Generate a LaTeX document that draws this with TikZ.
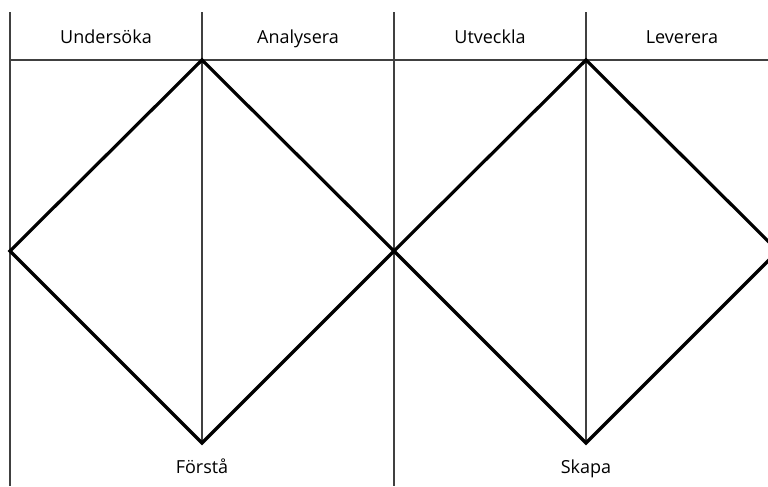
\documentclass[tikz,border=0pt]{standalone}
\usepackage{fontspec}
\setmainfont{Open Sans}
\begin{document}
\begin{tikzpicture}[x=0.75pt,y=-0.75pt,
  grid/.style={draw=black!75,line width=0.8pt},
  diam/.style={draw=black,line width=2.4pt,line join=miter},
  lbl/.style={font=\fontsize{13.5}{15}\selectfont,inner sep=0pt,anchor=base}]
\useasboundingbox (0,0) rectangle (768,486);
\begin{scope}
\clip (0,0) rectangle (768,486);
% column dividers
\coordinate (t0) at (10,12);   \coordinate (b0) at (10,486);
\coordinate (t1) at (202,12);  \coordinate (b1) at (202,443);
\coordinate (t2) at (394,12);  \coordinate (b2) at (394,486);
\coordinate (t3) at (586,12);  \coordinate (b3) at (586,443);
\coordinate (hl) at (10,60);   \coordinate (hr) at (768,60);
\draw[grid] (t0) -- (b0);
\draw[grid] (t1) -- (b1);
\draw[grid] (t2) -- (b2);
\draw[grid] (t3) -- (b3);
\draw[grid] (hl) -- (hr);
% diamond vertices
\coordinate (L) at (10,251);
\coordinate (T1) at (202,60);
\coordinate (M) at (394,251);
\coordinate (B1) at (202,443);
\coordinate (T2) at (586,60);
\coordinate (R) at (778,251);
\coordinate (B2) at (586,443);
\draw[diam] (L) -- (T1) -- (M) -- (B1) -- cycle;
\draw[diam] (M) -- (T2) -- (R) -- (B2) -- cycle;
\end{scope}
% labels
\node[lbl] (u) at (106,43) {Undersöka};
\node[lbl] (a) at (298,43) {Analysera};
\node[lbl] (v) at (490,43) {Utveckla};
\node[lbl] (l) at (682,43) {Leverera};
\node[lbl] (f) at (202,473) {Förstå};
\node[lbl] (s) at (586,473) {Skapa};
\end{tikzpicture}
\end{document}
